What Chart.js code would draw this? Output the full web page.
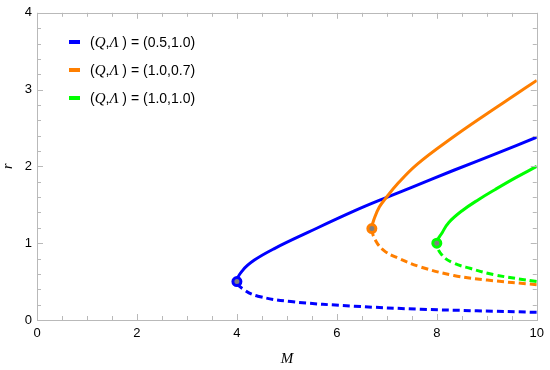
<!DOCTYPE html>
<html>
<head>
<meta charset="utf-8">
<script src="https://cdn.jsdelivr.net/npm/chart.js@4.4.1/dist/chart.umd.min.js"></script>
<style>
  html, body { margin: 0; padding: 0; background: #fff; }
  #wrap { position: relative; width: 550px; height: 370px; }
  #legend { position: absolute; left: 69px; top: 32px; font-family: "Liberation Sans", Arial, sans-serif; font-size: 14px; color: #000; }
  #legend .row { height: 28px; line-height: 20px; white-space: nowrap; }
  #legend .sw { display: inline-block; width: 11px; height: 4px; margin-right: 10px; vertical-align: middle; position: relative; top: -1px; }
  #legend i { font-family: "Liberation Serif", "Times New Roman", serif; font-size: 15px; }
</style>
</head>
<body>
<div id="wrap">
  <canvas id="chart" width="550" height="370"></canvas>
  <div id="legend"></div>
</div>
<script>
// values (M on x, r on y)
const blueUpperM = [4.0, 4.12, 4.35, 4.75, 5.42, 6.35, 7.01, 7.51, 8.34, 9.2, 10];
const blueUpperR = [0.50, 0.65, 0.78, 0.93, 1.14, 1.42, 1.60, 1.73, 1.95, 2.17, 2.38];
const blueLowerM = [4.0, 4.15, 4.42, 5.08, 6.35, 7.68, 8.8, 10];
const blueLowerR = [0.50, 0.39, 0.31, 0.24, 0.18, 0.14, 0.12, 0.10];

const orangeUpperM = [6.70, 6.76, 6.85, 6.96, 7.21, 7.61, 8.3, 9.01, 9.54, 10];
const orangeUpperR = [1.19, 1.34, 1.47, 1.57, 1.77, 2.03, 2.37, 2.69, 2.92, 3.12];
const orangeLowerM = [6.70, 6.78, 6.95, 7.21, 7.68, 8.34, 9.01, 10];
const orangeLowerR = [1.19, 1.03, 0.90, 0.81, 0.69, 0.58, 0.52, 0.46];

const greenUpperM = [8.0, 8.11, 8.24, 8.50, 8.84, 9.17, 9.57, 10];
const greenUpperR = [1.0, 1.14, 1.27, 1.42, 1.57, 1.70, 1.85, 2.0];
const greenLowerM = [8.0, 8.11, 8.34, 8.68, 9.14, 10];
const greenLowerR = [1.0, 0.84, 0.74, 0.67, 0.59, 0.50];

const seriesLabels = ['(0.5,1.0)', '(1.0,0.7)', '(1.0,1.0)'];
const seriesColors = ['rgb(0,0,255)', 'rgb(255,127,0)', 'rgb(0,255,0)'];

// Join lower branch (reversed) and upper branch into one curve
function buildCurve(lowM, lowR, upM, upR) {
  const pts = [];
  for (let i = lowM.length - 1; i >= 0; i--) pts.push({x: lowM[i], y: lowR[i]});
  for (let i = 1; i < upM.length; i++) pts.push({x: upM[i], y: upR[i]});
  return {pts: pts, turn: lowM.length - 1};
}

function curveDataset(curve, color) {
  return {
    data: curve.pts,
    showLine: true,
    borderColor: color,
    borderWidth: 3,
    pointRadius: 0,
    tension: 0.4,
    fill: false,
    segment: {
      borderDash: ctx => ctx.p0DataIndex < curve.turn ? [7, 4] : undefined
    }
  };
}

function turnDataset(m, r, color) {
  return {
    data: [{x: m, y: r}],
    showLine: false,
    pointRadius: 4,
    pointBorderWidth: 3,
    pointBorderColor: color,
    pointBackgroundColor: 'rgb(128,128,128)'
  };
}

const blue = buildCurve(blueLowerM, blueLowerR, blueUpperM, blueUpperR);
const orange = buildCurve(orangeLowerM, orangeLowerR, orangeUpperM, orangeUpperR);
const green = buildCurve(greenLowerM, greenLowerR, greenUpperM, greenUpperR);

// inward ticks and frame, like the reference
const framePlugin = {
  id: 'frame',
  afterDraw(chart) {
    const ctx = chart.ctx;
    const a = chart.chartArea;
    const xs = chart.scales.x, ys = chart.scales.y;
    ctx.save();
    ctx.strokeStyle = 'rgb(185,185,185)';
    ctx.lineWidth = 1;
    ctx.strokeRect(Math.round(a.left) + 0.5, Math.round(a.top) + 0.5,
                   Math.round(a.right - a.left), Math.round(a.bottom - a.top));
    ctx.beginPath();
    xs.ticks.forEach(t => {
      const px = Math.round(xs.getPixelForValue(t.value)) + 0.5;
      const len = Math.abs(t.value / 2 - Math.round(t.value / 2)) < 1e-6 ? 6 : 4;
      ctx.moveTo(px, a.bottom); ctx.lineTo(px, a.bottom - len);
      ctx.moveTo(px, a.top); ctx.lineTo(px, a.top + len);
    });
    ys.ticks.forEach(t => {
      const py = Math.round(ys.getPixelForValue(t.value)) + 0.5;
      const len = Math.abs(t.value - Math.round(t.value)) < 1e-6 ? 6 : 4;
      ctx.moveTo(a.left, py); ctx.lineTo(a.left + len, py);
      ctx.moveTo(a.right, py); ctx.lineTo(a.right - len, py);
    });
    ctx.stroke();
    ctx.restore();
  }
};

new Chart(document.getElementById('chart').getContext('2d'), {
  type: 'scatter',
  data: {
    datasets: [
      turnDataset(greenUpperM[0], greenUpperR[0], seriesColors[2]),
      turnDataset(orangeUpperM[0], orangeUpperR[0], seriesColors[1]),
      turnDataset(blueUpperM[0], blueUpperR[0], seriesColors[0]),
      curveDataset(green, seriesColors[2]),
      curveDataset(orange, seriesColors[1]),
      curveDataset(blue, seriesColors[0])
    ]
  },
  options: {
    responsive: false,
    animation: false,
    layout: { padding: { left: 0, right: 12, top: 10, bottom: 0 } },
    plugins: { legend: { display: false }, tooltip: { enabled: false } },
    scales: {
      x: {
        type: 'linear', min: 0, max: 10,
        afterFit: s => { s.height = 50; },
        grid: { display: false, drawTicks: false },
        border: { display: false },
        ticks: {
          stepSize: 0.5, autoSkip: false, maxRotation: 0, padding: 6,
          color: '#000', font: { family: 'Liberation Sans', size: 13 },
          callback: v => Math.abs(v / 2 - Math.round(v / 2)) < 1e-6 ? String(Math.round(v)) : ''
        },
        title: {
          display: true, text: 'M', color: '#000',
          font: { family: 'Liberation Serif', style: 'italic', size: 15 },
          padding: { top: 0, bottom: 2 }
        }
      },
      y: {
        type: 'linear', min: 0, max: 4,
        afterFit: s => { s.width = 37; },
        grid: { display: false, drawTicks: false },
        border: { display: false },
        ticks: {
          stepSize: 0.2, autoSkip: false, padding: 5,
          color: '#000', font: { family: 'Liberation Sans', size: 13 },
          callback: v => Math.abs(v - Math.round(v)) < 1e-6 ? String(Math.round(v)) : ''
        },
        title: {
          display: true, text: 'r', color: '#000',
          font: { family: 'Liberation Serif', style: 'italic', size: 14 },
          padding: { top: 0, bottom: 0 }
        }
      }
    }
  },
  plugins: [framePlugin]
});

// legend with italic symbols
const legend = document.getElementById('legend');
seriesLabels.forEach((lab, i) => {
  const row = document.createElement('div');
  row.className = 'row';
  row.innerHTML = '<span class="sw" style="background:' + seriesColors[i] + '"></span>' +
    '(<i>Q</i>,<i>\u039B</i> ) = ' + lab;
  legend.appendChild(row);
});
</script>
</body>
</html>
